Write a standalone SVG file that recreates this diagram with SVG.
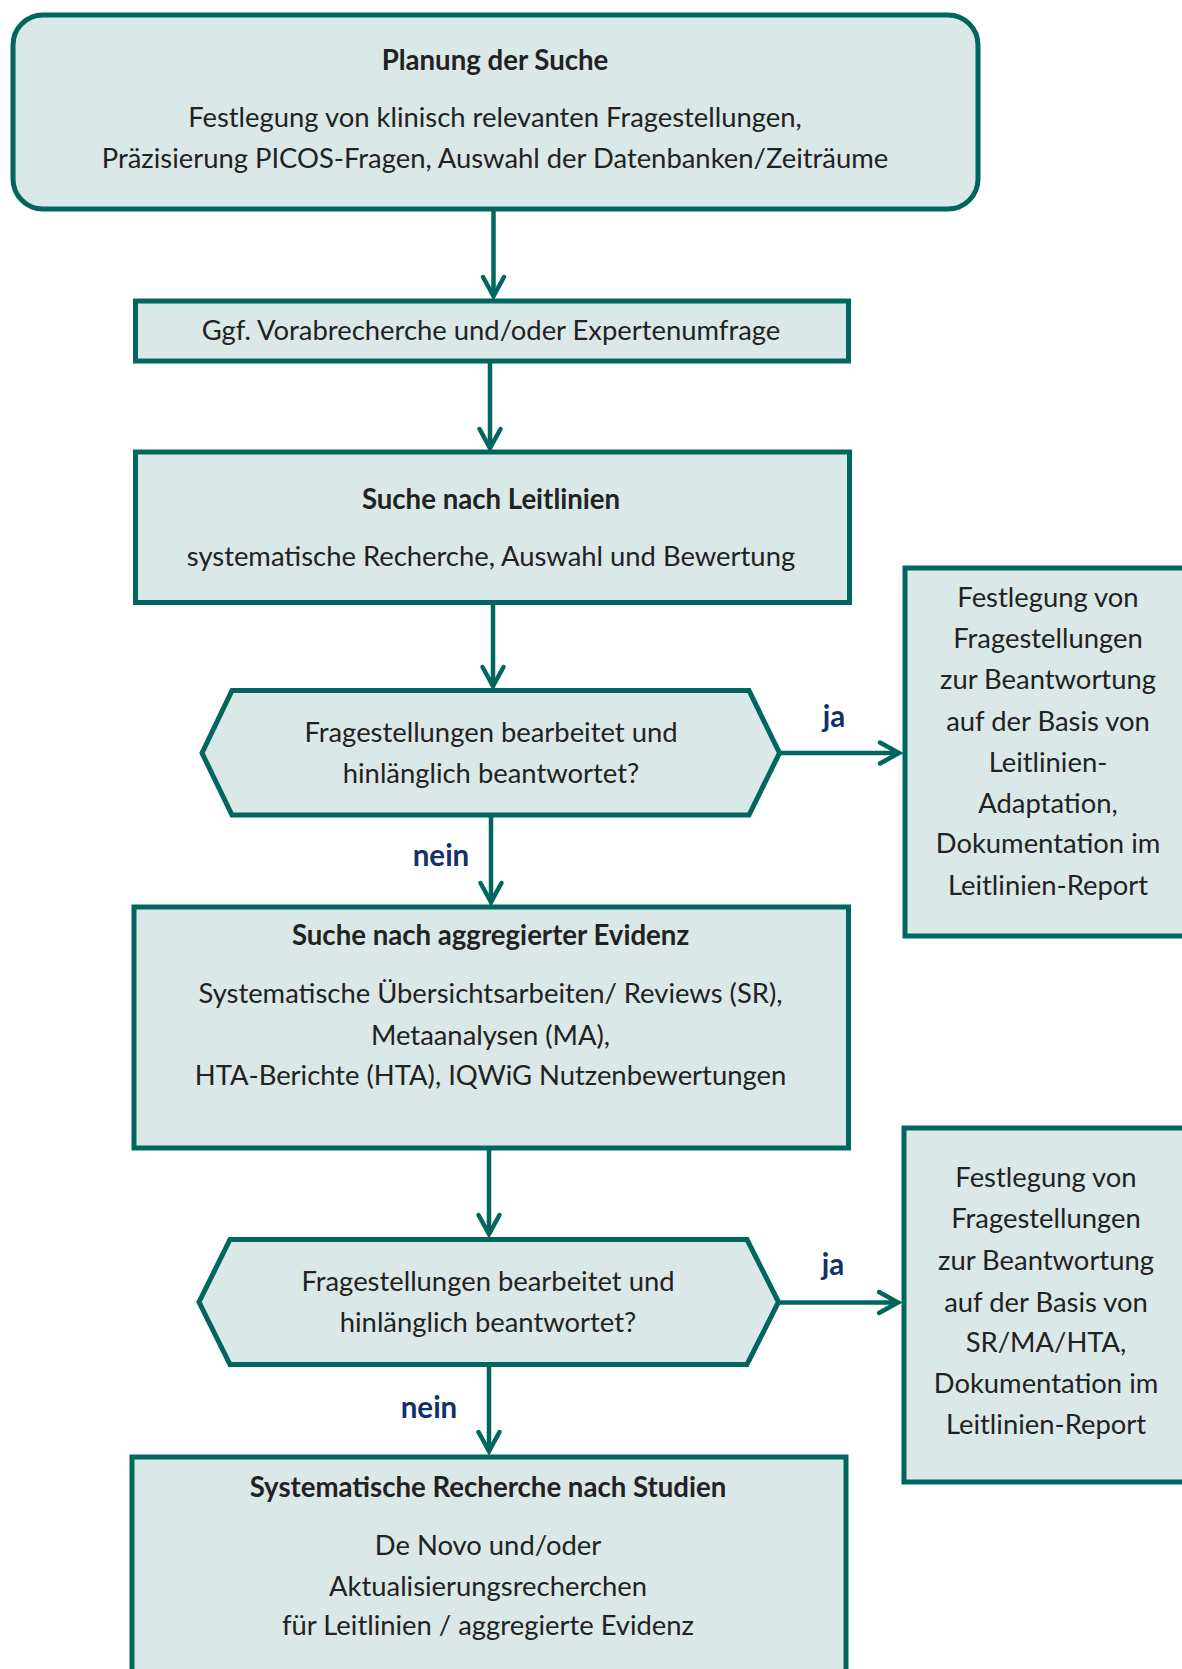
<svg xmlns="http://www.w3.org/2000/svg" width="1182" height="1669" viewBox="0 0 1182 1669">
<style>
.box{fill:#DAE8E7;stroke:#01665E;stroke-width:5;}
.con{stroke:#01665E;stroke-width:4.5;fill:none;}
text{font-family:Lato,"Open Sans","Liberation Sans",sans-serif;font-size:27.4px;fill:#222222;text-anchor:middle;}
.b{font-weight:bold;font-size:27.6px;}
.lbl{font-weight:bold;fill:#14306A;font-size:29.5px;}
</style>
<defs>
<marker id="ah" markerUnits="userSpaceOnUse" viewBox="-24 -14 28 28" markerWidth="28" markerHeight="28" refX="0" refY="0" orient="auto" overflow="visible">
<path d="M-19,-10.5 L0,0 L-19,10.5" fill="none" stroke="#01665E" stroke-width="4.5" stroke-linecap="round" stroke-linejoin="miter"/>
</marker>
</defs>
<g id="connectors">
<line class="con" x1="493.5" y1="211" x2="493.5" y2="296" marker-end="url(#ah)"/>
<line class="con" x1="490" y1="363" x2="490" y2="448" marker-end="url(#ah)"/>
<line class="con" x1="493" y1="604" x2="493" y2="686" marker-end="url(#ah)"/>
<line class="con" x1="780" y1="753" x2="899" y2="753" marker-end="url(#ah)"/>
<line class="con" x1="491" y1="817" x2="491" y2="902" marker-end="url(#ah)"/>
<line class="con" x1="489" y1="1150" x2="489" y2="1234" marker-end="url(#ah)"/>
<line class="con" x1="778" y1="1302.5" x2="898" y2="1302.5" marker-end="url(#ah)"/>
<line class="con" x1="489" y1="1367" x2="489" y2="1451" marker-end="url(#ah)"/>
<text class="lbl" x="834" y="727">ja</text>
<text class="lbl" x="441" y="866">nein</text>
<text class="lbl" x="833" y="1275">ja</text>
<text class="lbl" x="429" y="1418">nein</text>
</g>
<g id="planung">
<rect class="box" x="13" y="15" width="965" height="194" rx="30" ry="30"/>
<text class="b" x="495" y="70">Planung der Suche</text>
<text x="495" y="127">Festlegung von klinisch relevanten Fragestellungen,</text>
<text x="495" y="168">Präzisierung PICOS-Fragen, Auswahl der Datenbanken/Zeiträume</text>
</g>
<g id="vorab">
<rect class="box" x="135.5" y="301" width="713" height="60"/>
<text x="491" y="340">Ggf. Vorabrecherche und/oder Expertenumfrage</text>
</g>
<g id="leitlinien">
<rect class="box" x="135.5" y="452" width="714" height="150.5"/>
<text class="b" x="491" y="509">Suche nach Leitlinien</text>
<text x="491" y="566">systematische Recherche, Auswahl und Bewertung</text>
</g>
<g id="frage1">
<polygon class="box" points="202,753 232,690.5 749,690.5 779.5,753 749,815 232,815"/>
<text x="491" y="742">Fragestellungen bearbeitet und</text>
<text x="491" y="783">hinlänglich beantwortet?</text>
</g>
<g id="ergebnis1">
<rect class="box" x="905" y="568" width="300" height="368"/>
<text x="1048" y="607">Festlegung von</text>
<text x="1048" y="648">Fragestellungen</text>
<text x="1048" y="689">zur Beantwortung</text>
<text x="1048" y="731">auf der Basis von</text>
<text x="1048" y="772">Leitlinien-</text>
<text x="1048" y="813">Adaptation,</text>
<text x="1048" y="853">Dokumentation im</text>
<text x="1048" y="895">Leitlinien-Report</text>
</g>
<g id="aggregiert">
<rect class="box" x="134" y="907" width="714.5" height="241"/>
<text class="b" x="490.5" y="945">Suche nach aggregierter Evidenz</text>
<text x="490.5" y="1003">Systematische Übersichtsarbeiten/ Reviews (SR),</text>
<text x="490.5" y="1045">Metaanalysen (MA),</text>
<text x="490.5" y="1085">HTA-Berichte (HTA), IQWiG Nutzenbewertungen</text>
</g>
<g id="frage2">
<polygon class="box" points="199,1302 230,1239.5 747,1239.5 778.5,1302 747,1364.5 230,1364.5"/>
<text x="488" y="1291">Fragestellungen bearbeitet und</text>
<text x="488" y="1332">hinlänglich beantwortet?</text>
</g>
<g id="ergebnis2">
<rect class="box" x="904" y="1128" width="300" height="354"/>
<text x="1046" y="1187">Festlegung von</text>
<text x="1046" y="1228">Fragestellungen</text>
<text x="1046" y="1270">zur Beantwortung</text>
<text x="1046" y="1312">auf der Basis von</text>
<text x="1046" y="1352">SR/MA/HTA,</text>
<text x="1046" y="1393">Dokumentation im</text>
<text x="1046" y="1434">Leitlinien-Report</text>
</g>
<g id="studien">
<rect class="box" x="132" y="1457" width="714" height="240"/>
<text class="b" x="488" y="1497">Systematische Recherche nach Studien</text>
<text x="488" y="1555">De Novo und/oder</text>
<text x="488" y="1596">Aktualisierungsrecherchen</text>
<text x="488" y="1635">für Leitlinien / aggregierte Evidenz</text>
</g>
</svg>
